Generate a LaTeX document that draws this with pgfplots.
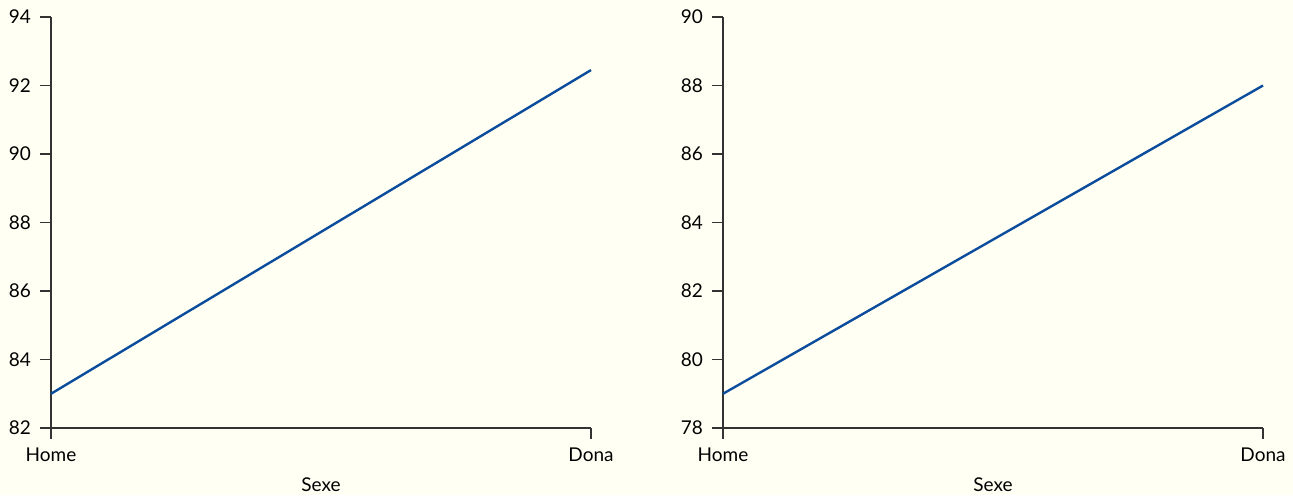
\documentclass[border=0pt]{standalone}
\usepackage{fontspec}
\setmainfont{Lato}
\usepackage{pgfplots}
\pgfplotsset{compat=1.18}
\definecolor{bgcream}{HTML}{FFFFF4}
\definecolor{lineblue}{HTML}{0B4C9C}
\definecolor{axgray}{HTML}{333333}

\pgfplotsset{
  sexe/.style={
    width=270pt, height=205.5pt, scale only axis,
    axis x line=bottom, axis y line=left,
    axis line style={axgray, line width=0.7pt, -},
    tick style={axgray, line width=0.7pt},
    xtick align=outside, ytick align=outside, major tick length=5.5pt,
    xmin=0, xmax=1, xtick={0,1}, xticklabels={Home,Dona},
    xlabel={Sexe},
    ytick distance=2,
    minor tick num=0,
    tick label style={font=\fontsize{9.5}{11}\selectfont, text=black},
    label style={font=\fontsize{9.5}{11}\selectfont, text=black},
    xticklabel style={yshift=-1pt},
    yticklabel style={xshift=-1pt},
    xlabel style={yshift=-1pt},
    /pgf/number format/assume math mode=true,
    clip=false,
  }
}

\begin{document}
\begin{tikzpicture}
\fill[bgcream] (0,0) rectangle (646.5pt,247.5pt);
\useasboundingbox (0,0) rectangle (646.5pt,247.5pt);

\begin{axis}[sexe, at={(25.5pt,33.5pt)}, anchor=south west, ymin=82, ymax=94]
\addplot[lineblue, line width=1.2pt] coordinates {(0,83.0) (1,92.45)};
\end{axis}

\begin{axis}[sexe, at={(361.5pt,33.5pt)}, anchor=south west, ymin=78, ymax=90]
\addplot[lineblue, line width=1.2pt] coordinates {(0,79.0) (1,88.0)};
\end{axis}
\end{tikzpicture}
\end{document}
